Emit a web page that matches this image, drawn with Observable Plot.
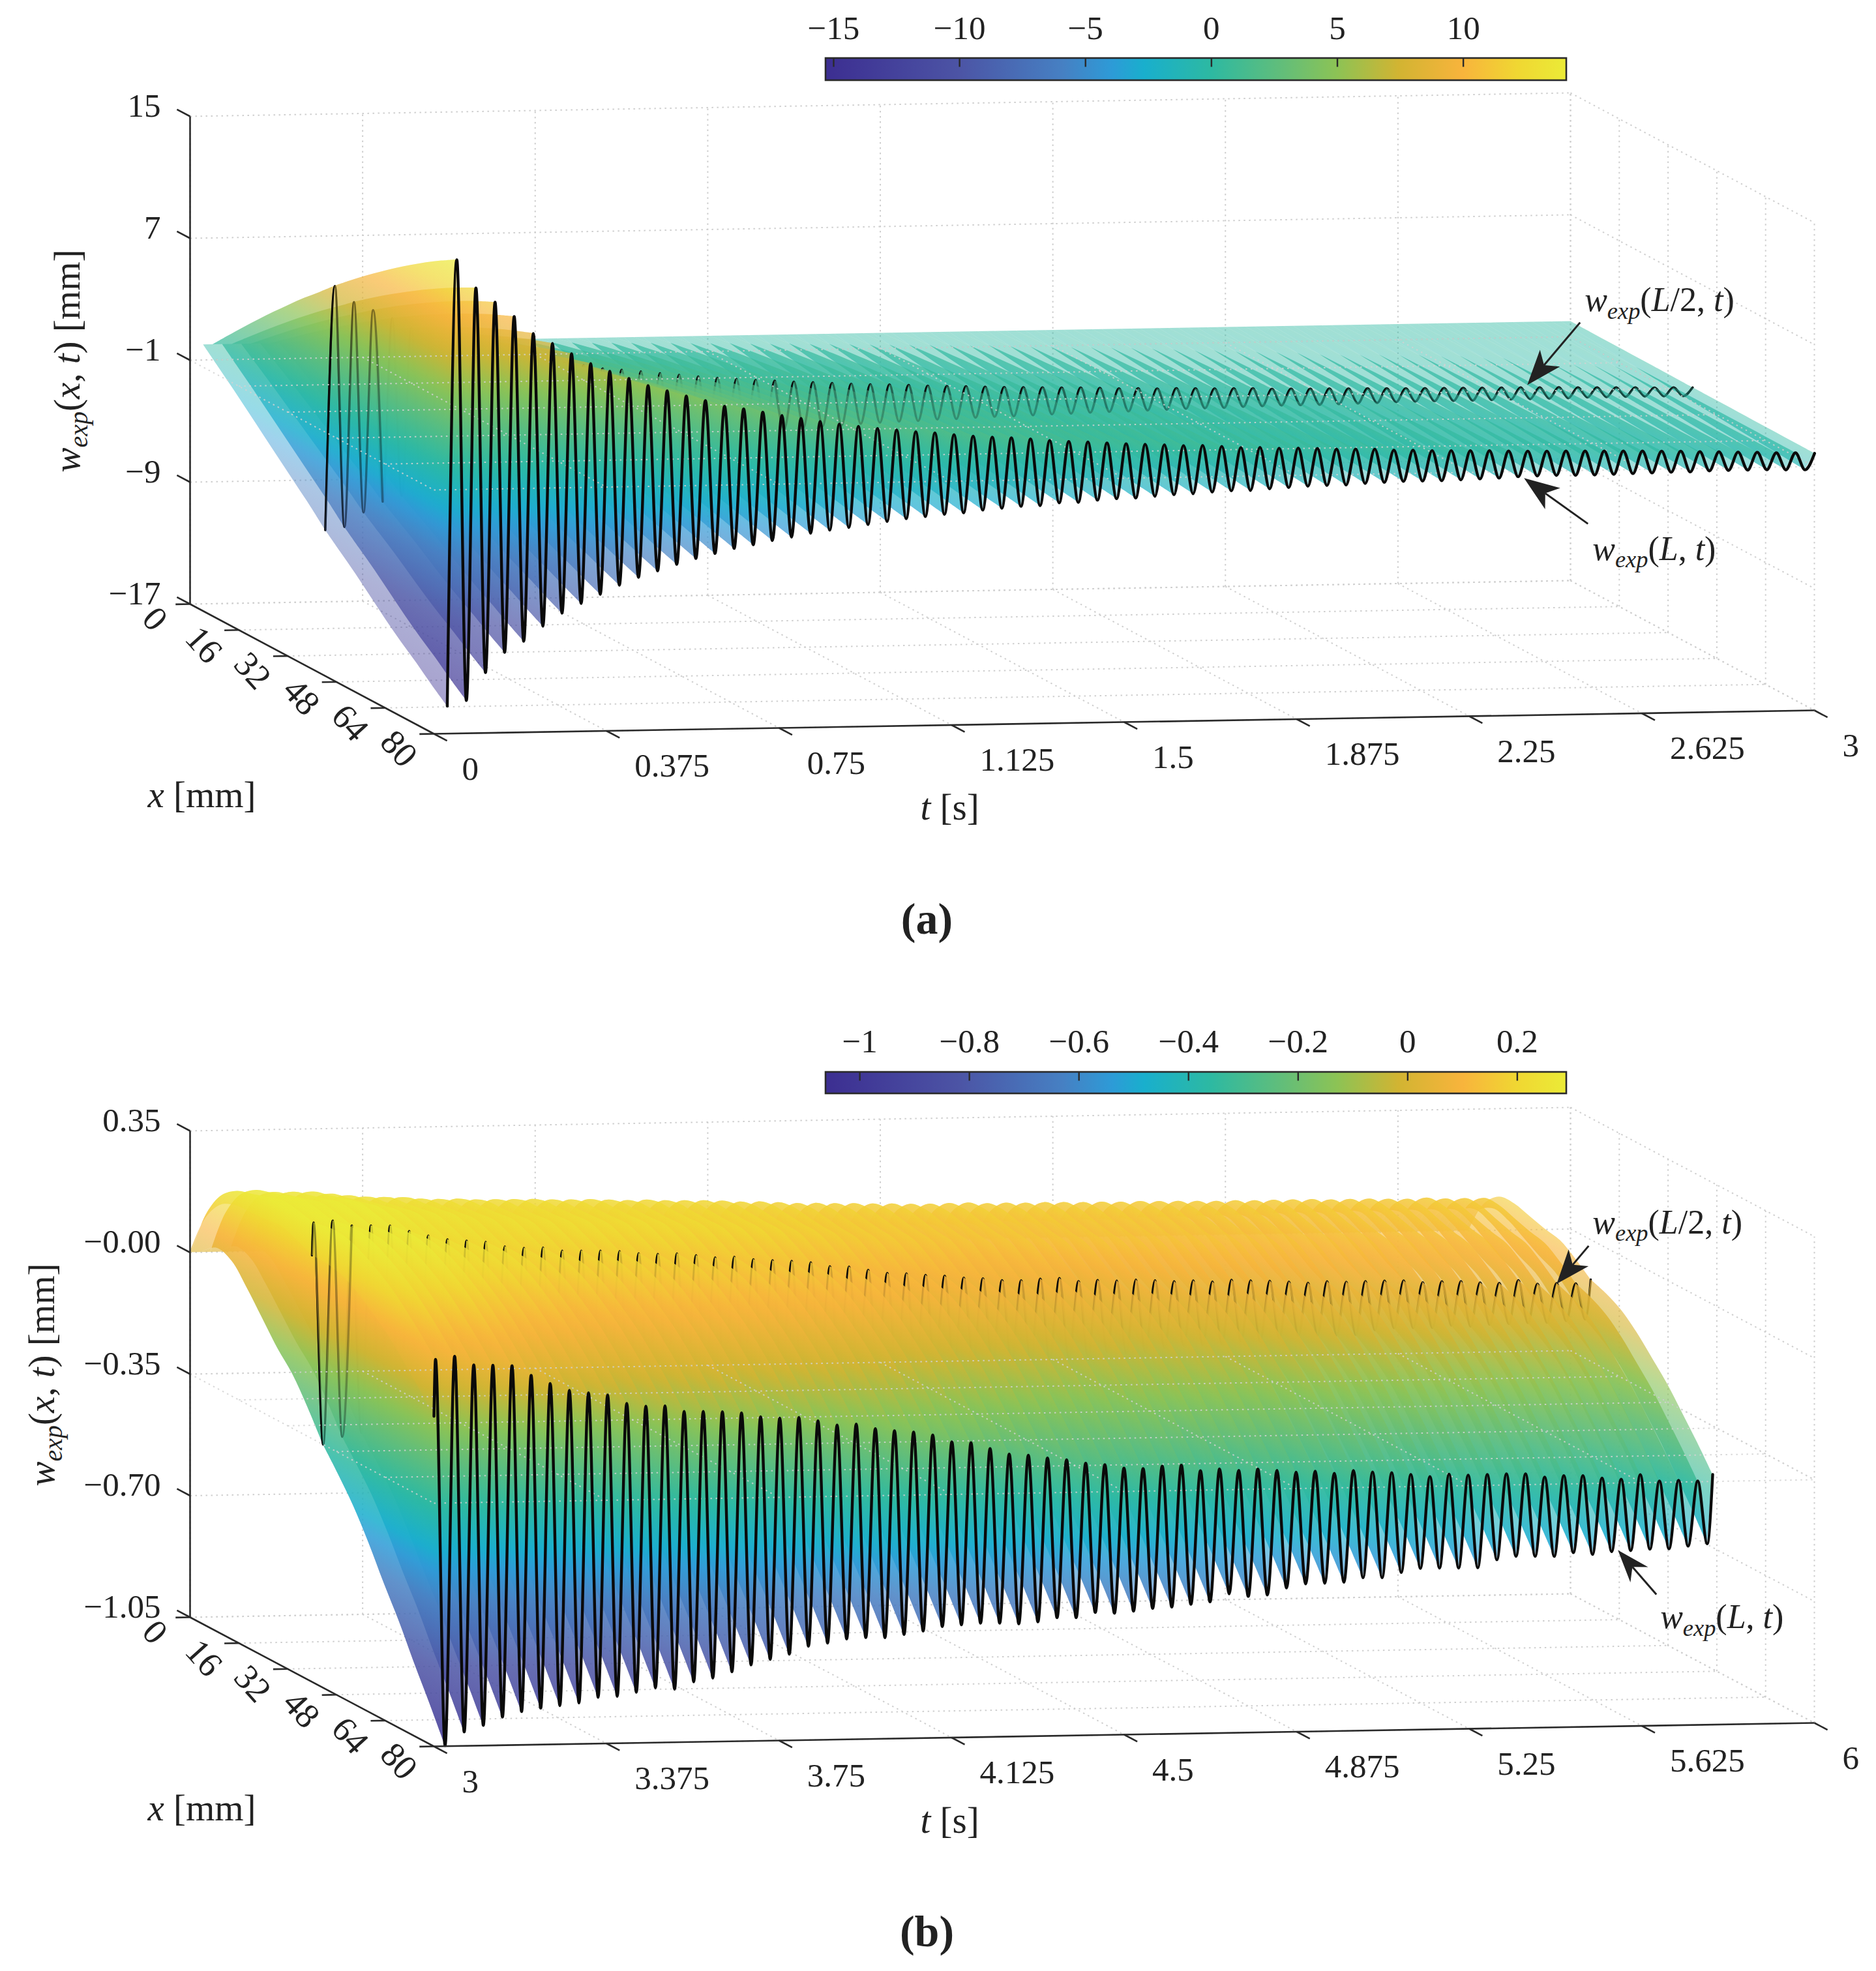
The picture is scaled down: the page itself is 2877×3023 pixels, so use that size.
<!DOCTYPE html>
<html>
<head>
<meta charset="utf-8">
<script src="https://cdn.jsdelivr.net/npm/d3@7"></script>
<script src="https://cdn.jsdelivr.net/npm/@observablehq/plot@0.6"></script>
<style>html,body{margin:0;padding:0;background:#fff}svg{display:block}</style>
</head>
<body>
<script>
// ---- data ----
const tTicksA = [0, 0.375, 0.75, 1.125, 1.5, 1.875, 2.25, 2.625, 3];
const tTicksB = [3, 3.375, 3.75, 4.125, 4.5, 4.875, 5.25, 5.625, 6];
const xTicks = [0, 16, 32, 48, 64, 80];
const wTicksA = [-17, -9, -1, 7, 15];
const wLabelsA = ["−17", "−9", "−1", "7", "15"];
const wTicksB = [-1.05, -0.70, -0.35, 0, 0.35];
const wLabelsB = ["−1.05", "−0.70", "−0.35", "−0.00", "0.35"];
const cbTicksA = [-15, -10, -5, 0, 5, 10];
const cbLabelsA = ["−15", "−10", "−5", "0", "5", "10"];
const cbTicksB = [-1, -0.8, -0.6, -0.4, -0.2, 0, 0.2];
const cbLabelsB = ["−1", "−0.8", "−0.6", "−0.4", "−0.2", "0", "0.2"];

// colour bar stops (fraction along the bar, colour)
const cmapStops = [0, 0.18, 0.32, 0.387, 0.43, 0.52, 0.62, 0.69, 0.774, 0.86, 0.934, 1];
const cmapColors = ["#3c2e91", "#4c54a5", "#4680c3", "#2d9bd7", "#19afcd", "#2db9a2", "#64be78", "#8cc355", "#d2b432", "#f8b43c", "#f0d732", "#ebeb37"];

// w(L,t), successive crests and troughs
const peaksA = [14.08,12.21,11.25,10.29,9.16,8.49,7.79,7.12,6.59,6.10,5.61,5.24,4.88,4.56,4.16,3.97,3.74,3.50,3.29,3.06,2.87,2.70,2.54,2.42,2.28,2.19,2.05,1.93,1.84,1.78,1.68,1.56,1.47,1.42,1.33,1.26,1.20,1.15,1.08,1.06,0.98,0.88,0.87,0.80,0.79,0.74,0.68,0.66,0.63,0.54,0.52,0.47,0.45,0.42,0.40,0.36,0.33,0.31,0.29,0.27,0.25,0.23,0.21,0.18,0.16,0.10,0.07,0.03,0.00,-0.06,-0.08,-0.14];
const troughsA = [-14.85,-13.04,-11.73,-11.03,-10.06,-9.23,-8.61,-8.03,-7.45,-6.96,-6.56,-6.15,-5.79,-5.48,-5.17,-4.95,-4.69,-4.49,-4.26,-4.08,-3.92,-3.75,-3.57,-3.41,-3.29,-3.17,-3.09,-2.93,-2.83,-2.73,-2.70,-2.54,-2.53,-2.41,-2.33,-2.31,-2.22,-2.14,-2.09,-2.01,-1.95,-1.94,-1.86,-1.80,-1.73,-1.70,-1.69,-1.61,-1.56,-1.52,-1.52,-1.52,-1.48,-1.44,-1.41,-1.34,-1.31,-1.30,-1.31,-1.31,-1.29,-1.26,-1.24,-1.22,-1.22,-1.17,-1.16,-1.16,-1.16,-1.19,-1.21];
const peaksB = [0.064,0.072,0.046,0.044,0.042,0.013,-0.011,-0.032,-0.040,-0.047,-0.072,-0.081,-0.081,-0.098,-0.099,-0.101,-0.105,-0.117,-0.122,-0.121,-0.132,-0.145,-0.143,-0.157,-0.164,-0.169,-0.178,-0.199,-0.202,-0.220,-0.237,-0.241,-0.250,-0.256,-0.267,-0.272,-0.283,-0.285,-0.279,-0.277,-0.294,-0.290,-0.295,-0.292,-0.297,-0.303,-0.301,-0.308,-0.301,-0.306,-0.309,-0.315,-0.322,-0.316,-0.320,-0.319,-0.318,-0.319,-0.329,-0.326,-0.327,-0.335,-0.339,-0.327,-0.346,-0.345,-0.348];
const troughsB = [-1.048,-1.010,-0.992,-0.969,-0.954,-0.945,-0.939,-0.932,-0.917,-0.915,-0.904,-0.892,-0.897,-0.877,-0.867,-0.850,-0.831,-0.816,-0.802,-0.780,-0.772,-0.761,-0.758,-0.759,-0.751,-0.742,-0.730,-0.726,-0.722,-0.723,-0.726,-0.721,-0.710,-0.711,-0.697,-0.700,-0.695,-0.688,-0.685,-0.678,-0.672,-0.650,-0.658,-0.655,-0.636,-0.625,-0.624,-0.622,-0.610,-0.611,-0.597,-0.586,-0.586,-0.587,-0.587,-0.565,-0.556,-0.557,-0.558,-0.548,-0.554,-0.547,-0.545,-0.542,-0.542,-0.535,-0.529];

// span-wise shape of the surface, at x = 0, 5, ... 80 mm
const xGrid = [0,5,10,15,20,25,30,35,40,45,50,55,60,65,70,75,80];
const bendUpA = [0,0.078,0.155,0.23,0.303,0.374,0.443,0.508,0.575,0.637,0.697,0.754,0.809,0.861,0.911,0.957,1];
const bendDownA = [0,0.0625,0.125,0.19,0.255,0.32,0.385,0.45,0.52,0.58,0.64,0.705,0.77,0.83,0.885,0.945,1];
const staticA = [0,0,0,0,0,0,0,0,0,0,0,0,0,0,0,0,0];
const bendB = [0,0.09,0.17,0.25,0.32,0.39,0.45,0.51,0.575,0.64,0.70,0.76,0.82,0.87,0.92,0.96,1];
const staticB = [0,0.13,0.20,0.23,0.24,0.25,0.26,0.25,0.235,0.24,0.235,0.215,0.185,0.15,0.105,0.055,0];

// ---- layout ----
const W = 2877, H = 3023;
const SERIF = "Liberation Serif";
const panelA = {
  id: "a", X0: 291, Y0: 926, tSpan: 2117, tRise: 36, xDx: 374, xDy: 199, wPx: 748,
  t0: 0, t1: 3, w0: -17, w1: 15, wMid: -1, alpha: 0.45, colorBias: 0,
  ghosts: [{from: 0, to: 0.16, opacity: 0.38}, {from: 1.0, to: 3.1, opacity: 0.25}],
  tTicks: tTicksA, tLabels: tTicksA.map(String), wTicks: wTicksA, wLabels: wLabelsA,
  cbMin: -15.31, cbMax: 14.1, cbTicks: cbTicksA, cbLabels: cbLabelsA, cbTop: 89, cbBottom: 123, cbLabelY: 43,
  bendUp: bendUpA, bendDown: bendDownA, stat: staticA,
  nodes: [{t: 0.0289, w: -15.2}].concat(weave(peaksA, troughsA, 0.0289 + 0.02078, 0.02078)),
  yLabelX: 103, yLabelY: 553, xLabelY: 1219, tLabelY: 1238, tag: "(a)", tagY: 1410,
  arrows: [
    {text: "wexp(L/2, t)", t: 2.641, x: 40, w: 0.27, tailDx: 81, tailDy: -96, textDx: 88, textDy: -130, L: 54, Wd: 20, N: 40},
    {text: "wexp(L, t)", t: 2.369, x: 80, w: -1.44, tailDx: 98, tailDy: 70, textDx: 105, textDy: 109, L: 54, Wd: 20, N: 40}
  ]
};
const panelB = {
  id: "b", X0: 291, Y0: 2480, tSpan: 2117, tRise: 36, xDx: 374, xDy: 198, wPx: 746,
  t0: 3, t1: 6, w0: -1.05, w1: 0.35, wMid: -0.35, alpha: 0.62, colorBias: 0.02,
  ghosts: [{from: 3, to: 3.1, opacity: 0.3}],
  tTicks: tTicksB, tLabels: tTicksB.map(String), wTicks: wTicksB, wLabels: wLabelsB,
  cbMin: -1.062, cbMax: 0.29, cbTicks: cbTicksB, cbLabels: cbLabelsB, cbTop: 1644, cbBottom: 1677, cbLabelY: 1597,
  bendUp: bendB, bendDown: bendB, stat: staticB,
  nodes: [{t: 3.0, w: -0.10}].concat(weave(peaksB, troughsB, 3.0034, 0.02078), [{t: 5.779, w: -0.33}]),
  yLabelX: 64, yLabelY: 2108, xLabelY: 2773, tLabelY: 2792, tag: "(b)", tagY: 2963,
  arrows: [
    {text: "wexp(L/2, t)", t: 5.705, x: 40, w: 0.035, tailDx: 49, tailDy: -58, textDx: 55, textDy: -94, L: 52, Wd: 20, N: 38},
    {text: "wexp(L, t)", t: 5.573, x: 80, w: -0.543, tailDx: 59, tailDy: 68, textDx: 65, textDy: 103, L: 50, Wd: 18, N: 34}
  ]
};

function weave(peaks, troughs, start, half) {
  const out = [];
  const n = Math.max(peaks.length, troughs.length);
  for (let i = 0; i < n; i++) {
    if (i < peaks.length) out.push(peaks[i]);
    if (i < troughs.length) out.push(troughs[i]);
  }
  return out.map((w, j) => ({t: start + j * half, w}));
}

function projector(p) {
  return (t, x, w) => {
    const ft = (t - p.t0) / (p.t1 - p.t0), fx = x / 80, fw = (w - p.w0) / (p.w1 - p.w0);
    return [p.X0 + ft * p.tSpan + fx * p.xDx, p.Y0 - ft * p.tRise + fx * p.xDy - fw * p.wPx];
  };
}

const svgNS = "http://www.w3.org/2000/svg";
const defs = [];
function gradient(id, x1, y1, x2, y2) {
  const g = document.createElementNS(svgNS, "linearGradient");
  g.setAttribute("id", id);
  g.setAttribute("gradientUnits", "userSpaceOnUse");
  for (const [k, v] of Object.entries({x1, y1, x2, y2})) g.setAttribute(k, v);
  cmapStops.forEach((f, i) => {
    const s = document.createElementNS(svgNS, "stop");
    s.setAttribute("offset", f);
    s.setAttribute("stop-color", cmapColors[i]);
    g.appendChild(s);
  });
  defs.push(g);
}

const TICK_FONT = 51, ANN_FONT = 52, LABEL_FONT = 57;
const rich = {
  "wexp(L/2, t)": [["w",1],["exp",2],["(",0],["L",1],["/2, ",0],["t",1],[")",0]],
  "wexp(L, t)": [["w",1],["exp",2],["(",0],["L",1],[", ",0],["t",1],[")",0]],
  "wexp(x, t) [mm]": [["w",1],["exp",2],["(",0],["x",1],[", ",0],["t",1],[") [mm]",0]],
  "x [mm]": [["x",1],[" [mm]",0]],
  "t [s]": [["t",1],[" [s]",0]]
};

function panelMarks(p) {
  const P = projector(p);
  const mid = xGrid.indexOf(40);
  const slope = p.xDy / p.xDx;
  const span = p.cbMax - p.cbMin;
  const kpx = p.wPx / (p.w1 - p.w0);
  const shape = (k, wL) => p.stat[k] + (wL > 0 ? p.bendUp[k] : p.bendDown[k]) * wL;

  // sheets of the surface between consecutive extrema, latest (farthest) first
  const near = [], far = [];
  for (let j = p.nodes.length - 2; j >= 0; j--) {
    const a = p.nodes[j], b = p.nodes[j + 1];
    const id = `sheet-${p.id}-${j}`;
    const [gx, gy] = P((a.t + b.t) / 2, 40, p.cbMin - p.colorBias);
    const s = kpx * span / (1 + slope * slope);
    gradient(id, gx, gy, gx + s * slope, gy - s);
    xGrid.forEach((x, k) => {
      const [x1, y1] = P(a.t, x, shape(k, a.w));
      const [x2, y2] = P(b.t, x, shape(k, b.w));
      const row = {x1, y1, x2, y2, j, fill: `url(#${id})`};
      if (k <= mid) near.push(row);
      if (k >= mid) far.push(row);
    });
  }
  const sheetOpts = {x1: "x1", y1: "y1", x2: "x2", y2: "y2", z: "j", fill: "fill", fillOpacity: p.alpha, curve: "catmull-rom"};

  const lineOf = (x, k, nodes = p.nodes) => nodes.map(n => {
    const [X, Y] = P(n.t, x, shape(k, n.w));
    return {X, Y};
  });

  const seg = (a, b) => ({x1: a[0], y1: a[1], x2: b[0], y2: b[1]});
  const wall = [], midPlane = [];
  for (const w of p.wTicks) {
    wall.push(seg(P(p.t0, 0, w), P(p.t1, 0, w)));
    wall.push(seg(P(p.t1, 0, w), P(p.t1, 80, w)));
  }
  for (const t of p.tTicks) {
    wall.push(seg(P(t, 0, p.w0), P(t, 0, p.w1)));
    wall.push(seg(P(t, 0, p.w0), P(t, 80, p.w0)));
    midPlane.push(seg(P(t, 0, p.wMid), P(t, 80, p.wMid)));
  }
  for (const x of xTicks) {
    wall.push(seg(P(p.t0, x, p.w0), P(p.t1, x, p.w0)));
    wall.push(seg(P(p.t1, x, p.w0), P(p.t1, x, p.w1)));
    midPlane.push(seg(P(p.t0, x, p.wMid), P(p.t1, x, p.wMid)));
  }
  const dots = {x1: "x1", y1: "y1", x2: "x2", y2: "y2", strokeDasharray: "2.5 5.5", strokeWidth: 2};

  const axes = [
    seg(P(p.t0, 0, p.w0), P(p.t0, 0, p.w1)),
    seg(P(p.t0, 0, p.w0), P(p.t0, 80, p.w0)),
    seg(P(p.t0, 80, p.w0), P(p.t1, 80, p.w0))
  ];
  const dt = (p.t1 - p.t0) * 0.0105, dw = 4.3;
  for (const w of p.wTicks) axes.push(seg(P(p.t0, 0, w), P(p.t0, -dw, w)));
  for (const x of xTicks) axes.push(seg(P(p.t0, x, p.w0), P(p.t0 - dt, x, p.w0)));
  for (const t of p.tTicks) axes.push(seg(P(t, 80, p.w0), P(t, 80 + dw, p.w0)));

  const wRows = p.wTicks.map((w, i) => { const [X, Y] = P(p.t0, 0, w); return {X, Y, s: p.wLabels[i]}; });
  const xRows = xTicks.map(x => { const [X, Y] = P(p.t0, x, p.w0); return {X, Y, s: String(x)}; });
  const tRows = p.tTicks.map((t, i) => { const [X, Y] = P(t, 80, p.w0); return {X, Y, s: p.tLabels[i]}; });

  // colour bar
  const cbL = 1266, cbR = 2402;
  const cbX = w => cbL + (w - p.cbMin) / span * (cbR - cbL);
  gradient(`bar-${p.id}`, cbL, 0, cbR, 0);
  const cbTicks = p.cbTicks.map((w, i) => ({X: cbX(w), s: p.cbLabels[i]}));

  // arrows
  const shafts = [], heads = [], annText = [];
  p.arrows.forEach((a, idx) => {
    const [tx, ty] = P(a.t, a.x, a.w);
    const len = Math.hypot(a.tailDx, a.tailDy);
    const ux = a.tailDx / len, uy = a.tailDy / len, vx = -uy, vy = ux;
    shafts.push({x1: tx + ux * a.N, y1: ty + uy * a.N, x2: tx + a.tailDx, y2: ty + a.tailDy});
    for (const [al, pe] of [[0, 0], [a.L, a.Wd], [a.N, 0], [a.L, -a.Wd]])
      heads.push({X: tx + ux * al + vx * pe, Y: ty + uy * al + vy * pe, z: idx});
    annText.push({X: tx + a.textDx, Y: ty + a.textDy, s: a.text});
  });

  const font = {fontFamily: SERIF, fill: "#222", stroke: null};
  const ghostLines = p.ghosts.map(g => Plot.line(
    lineOf(40, mid, p.nodes.filter(n => n.t >= g.from && n.t <= g.to)),
    {x: "X", y: "Y", stroke: "#0a0a0a", strokeWidth: 3.4, strokeOpacity: g.opacity, curve: "monotone-x"}
  ));
  return [
    Plot.link(wall, {...dots, stroke: "#cfcfcf"}),
    Plot.area(near, sheetOpts),
    Plot.line(lineOf(40, mid), {x: "X", y: "Y", stroke: "#0a0a0a", strokeWidth: 3.4, curve: "monotone-x"}),
    Plot.area(far, sheetOpts),
    ...ghostLines,
    Plot.link(midPlane, {...dots, stroke: "#d2d2d2", strokeOpacity: 0.85}),
    Plot.line(lineOf(80, xGrid.length - 1), {x: "X", y: "Y", stroke: "#0a0a0a", strokeWidth: 4.4, curve: "monotone-x"}),
    Plot.link(axes, {x1: "x1", y1: "y1", x2: "x2", y2: "y2", stroke: "#2a2a2a", strokeWidth: 2.6}),
    Plot.text(wRows, {x: "X", y: "Y", text: "s", dx: -45, dy: -16, textAnchor: "end", fontSize: TICK_FONT, ...font}),
    Plot.text(xRows, {x: "X", y: "Y", text: "s", dx: -54, dy: 23, rotate: 48, fontSize: 54, ...font}),
    Plot.text(tRows, {x: "X", y: "Y", text: "s", dx: 43, dy: 54, textAnchor: "start", fontSize: TICK_FONT, ...font}),
    Plot.text([{X: p.yLabelX, Y: p.yLabelY, s: "wexp(x, t) [mm]"}], {x: "X", y: "Y", text: "s", rotate: -90, fontSize: LABEL_FONT, ...font}),
    Plot.text([{X: 309, Y: p.xLabelY, s: "x [mm]"}], {x: "X", y: "Y", text: "s", fontSize: LABEL_FONT, ...font}),
    Plot.text([{X: 1456, Y: p.tLabelY, s: "t [s]"}], {x: "X", y: "Y", text: "s", fontSize: LABEL_FONT, ...font}),
    Plot.text([{X: 1421, Y: p.tagY, s: p.tag}], {x: "X", y: "Y", text: "s", fontSize: 68, fontWeight: "bold", ...font}),
    Plot.rect([{a: cbL, b: cbR, c: p.cbTop, d: p.cbBottom}], {x1: "a", x2: "b", y1: "c", y2: "d", fill: `url(#bar-${p.id})`, stroke: "#2a2a2a", strokeWidth: 2.6}),
    Plot.link(cbTicks, {x1: "X", x2: "X", y1: () => p.cbTop, y2: () => p.cbTop + 13, stroke: "#2a2a2a", strokeWidth: 2.4}),
    Plot.text(cbTicks, {x: "X", y: () => p.cbLabelY, text: "s", fontSize: TICK_FONT, ...font}),
    Plot.link(shafts, {x1: "x1", y1: "y1", x2: "x2", y2: "y2", stroke: "#222", strokeWidth: 3}),
    Plot.line(heads, {x: "X", y: "Y", z: "z", fill: "#222", stroke: null}),
    Plot.text(annText, {x: "X", y: "Y", text: "s", textAnchor: "start", fontSize: ANN_FONT, ...font})
  ];
}

const marksA = panelMarks(panelA);
const marksB = panelMarks(panelB);

const chart = Plot.plot({
  width: W,
  height: H,
  margin: 0,
  style: {background: "#fff"},
  x: {domain: [0, W], range: [0, W], axis: null},
  y: {domain: [0, H], range: [0, H], axis: null},
  color: {type: "identity"},
  marks: [
    () => {
      const d = document.createElementNS(svgNS, "defs");
      defs.forEach(g => d.appendChild(g));
      return d;
    },
    ...marksA,
    ...marksB
  ]
});

// italics and subscripts inside the mathematical labels
chart.querySelectorAll("text").forEach(el => {
  const parts = rich[el.textContent];
  if (!parts) return;
  const size = parseFloat(el.closest("[font-size]")?.getAttribute("font-size")) || 52;
  el.textContent = "";
  let pending = 0;
  for (const [s, kind] of parts) {
    const ts = document.createElementNS(svgNS, "tspan");
    ts.textContent = s;
    if (kind) ts.setAttribute("font-style", "italic");
    let dy = pending;
    pending = 0;
    if (kind === 2) {
      ts.setAttribute("font-size", size * 0.7);
      dy += size * 0.22;
      pending = -size * 0.22;
    }
    if (dy) ts.setAttribute("dy", dy);
    el.appendChild(ts);
  }
});

document.body.appendChild(chart);
</script>
</body>
</html>
